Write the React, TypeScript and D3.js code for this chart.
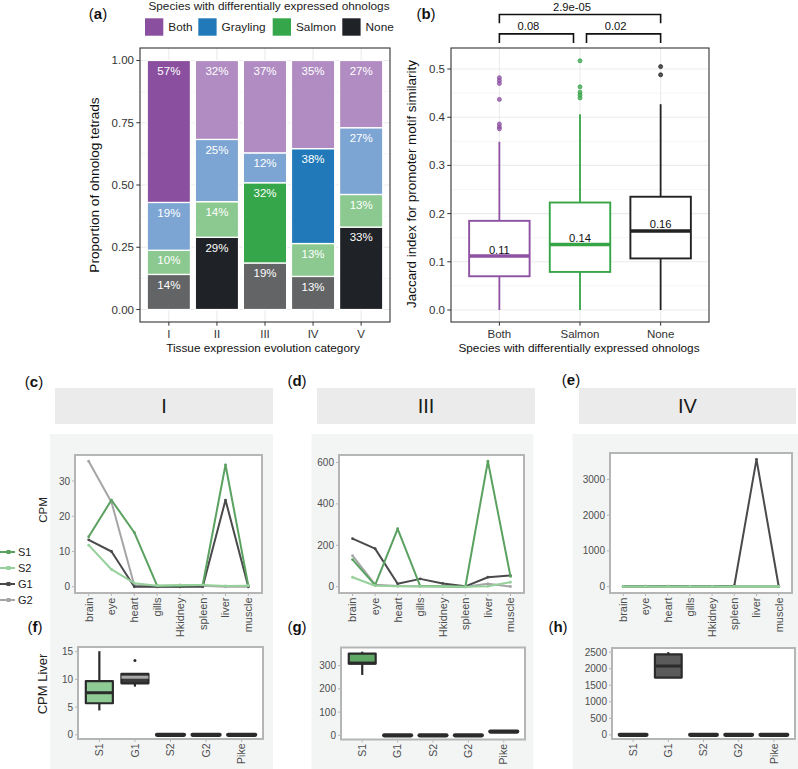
import React from 'react';
import * as d3 from 'd3';

const FONT = '"Liberation Sans", Arial, Helvetica, sans-serif';

// ---------- Panel (a) data ----------
const tissueCategories = ['I', 'II', 'III', 'IV', 'V'];
const speciesGroups = ['Both', 'Grayling', 'Salmon', 'None'];
const bothShare = [0.57, 0.317, 0.371, 0.354, 0.27];
const graylingShare = [0.192, 0.25, 0.12, 0.381, 0.268];
const salmonShare = [0.097, 0.143, 0.322, 0.132, 0.131];
const noneShare = [0.141, 0.29, 0.187, 0.133, 0.331];
const highlightedGroup = ['Both', 'None', 'Salmon', 'Grayling', 'None'];
const proportionTicks = [0, 0.25, 0.5, 0.75, 1];

// ---------- Panel (b) data ----------
const jaccardGroups = ['Both', 'Salmon', 'None'];
const jaccardLow = [0, 0, 0];
const jaccardQ1 = [0.07, 0.079, 0.107];
const jaccardMedian = [0.112, 0.136, 0.164];
const jaccardQ3 = [0.185, 0.223, 0.235];
const jaccardHigh = [0.349, 0.406, 0.427];
const jaccardOutliers = [
  [0.482, 0.476, 0.47, 0.437, 0.386, 0.38, 0.376],
  [0.517, 0.463, 0.452, 0.446, 0.44],
  [0.505, 0.488],
];
const jaccardMedianLabels = ['0.11', '0.14', '0.16'];
const jaccardTicks = [0, 0.1, 0.2, 0.3, 0.4, 0.5];
const sigPairs = [
  { a: 'Both', b: 'None', label: '2.9e-05', level: 1 },
  { a: 'Both', b: 'Salmon', label: '0.08', level: 0 },
  { a: 'Salmon', b: 'None', label: '0.02', level: 0 },
];

// ---------- Panels (c)-(e) data ----------
const tissues = ['brain', 'eye', 'heart', 'gills', 'Hkidney', 'spleen', 'liver', 'muscle'];
const seriesNames = ['S1', 'S2', 'G1', 'G2'];
const cS1 = [14.2, 24.6, 15.4, 0.3, 0.3, 0.5, 34.6, 0.3];
const cS2 = [11.8, 4.9, 1, 0.3, 0.5, 0.5, 0.2, 0.3];
const cG1 = [13.3, 10, 0, 0, 0, 0, 24.6, 0];
const cG2 = [35.6, 24, 0.4, 0, 0, 0.3, 0, 0];
const cTicks = [0, 10, 20, 30];

const dS1 = [131, 8, 280, 3, 2, 0, 606, 50];
const dS2 = [46, 5, 2, 1, 1, 0, 2, 22];
const dG1 = [232, 184, 14, 38, 16, 2, 46, 54];
const dG2 = [150, 10, 3, 2, 1, 0, 14, 1];
const dTicks = [0, 200, 400, 600];

const eS1 = [2, 2, 3, 2, 2, 3, 5, 2];
const eS2 = [4, 4, 4, 4, 4, 4, 4, 4];
const eG1 = [10, 12, 15, 8, 10, 25, 3560, 12];
const eG2 = [3, 3, 3, 3, 3, 3, 3, 3];
const eTicks = [0, 1000, 2000, 3000];

// ---------- Panels (f)-(h) data ----------
const liverGroups = ['S1', 'G1', 'S2', 'G2', 'Pike'];
const fLow = [4.4, 8.7, 0, 0, 0];
const fQ1 = [5.7, 9.3, 0, 0, 0];
const fMed = [7.6, 10.4, 0, 0, 0];
const fQ3 = [9.7, 11, 0, 0, 0];
const fHigh = [15.1, 11, 0, 0, 0];
const fOut = [[], [13.4], [], [], []];
const fTicks = [0, 5, 10, 15];

const gLow = [260, 0, 0, 0, 16];
const gQ1 = [308, 0, 0, 0, 16];
const gMed = [311, 0, 0, 0, 16];
const gQ3 = [352, 0, 0, 0, 16];
const gHigh = [360, 0, 0, 0, 16];
const gOut = [[], [], [], [], []];
const gTicks = [0, 100, 200, 300];

const hLow = [0, 1730, 0, 0, 0];
const hQ1 = [0, 1730, 0, 0, 0];
const hMed = [0, 2080, 0, 0, 0];
const hQ3 = [0, 2430, 0, 0, 0];
const hHigh = [0, 2500, 0, 0, 0];
const hOut = [[], [], [], [], []];
const hTicks = [0, 500, 1000, 1500, 2000, 2500];

// ---------- Styles ----------
const GROUP_COLORS: Record<string, { dark: string; light: string }> = {
  Both: { dark: '#8B4F9F', light: '#B18CC2' },
  Grayling: { dark: '#2179B9', light: '#7CA5D3' },
  Salmon: { dark: '#35A64A', light: '#8CC990' },
  None: { dark: '#1F2226', light: '#636466' },
};
const BOX_COLORS: Record<string, string> = { Both: '#8E52A3', Salmon: '#36A447', None: '#222222' };
const SERIES_COLORS: Record<string, string> = { S1: '#5BA160', S2: '#96D09B', G1: '#4A4A4D', G2: '#A5A5A5' };
const DRAW_ORDER = ['G2', 'G1', 'S1', 'S2'];
const BOX_DARK = '#2B2B2B';
const BG_LIGHT = '#F3F5F5';
const STRIP_BG = '#EBEBEB';
const GRID = '#EBEBEB';
const LOWER_BORDER = '#B5B5B5';
const AXIS_TXT = '#4D4D4D';

function PanelTag({ x, y, letter }: { x: number; y: number; letter: string }) {
  return (
    <text x={x} y={y} textAnchor="middle" fontSize={15} fill="#111">
      (<tspan fontWeight="bold">{letter}</tspan>)
    </text>
  );
}

function PanelA() {
  const L = 140, R = 390, T = 48, B = 322;
  const x = d3.scalePoint<string>().domain(tissueCategories).range([L, R]).padding(0.6);
  const y = d3.scaleLinear().domain([-0.05, 1.05]).range([B, T]);
  const bw = x.step() * 0.9;
  const rows = tissueCategories.map((c, i) => ({
    cat: c, Both: bothShare[i], Grayling: graylingShare[i], Salmon: salmonShare[i], None: noneShare[i],
  }));
  const stacked = d3.stack<any>().keys(['None', 'Salmon', 'Grayling', 'Both'])(rows);
  const minor = proportionTicks.slice(0, -1).map((t, i) => (t + proportionTicks[i + 1]) / 2);
  const legendX = [145, 198.3, 272.7, 342.3];
  return (
    <g>
      <PanelTag x={98} y={19} letter="a" />
      <text x={269} y={9.5} textAnchor="middle" fontSize={11.8} fill="#222">Species with differentially expressed ohnologs</text>
      {speciesGroups.map((g, i) => (
        <g key={g}>
          <rect x={legendX[i]} y={18.3} width={18.3} height={17.4} fill={GROUP_COLORS[g].dark} />
          <text x={legendX[i] + 23.3} y={31} fontSize={11.8} fill="#222">{g}</text>
        </g>
      ))}
      <rect x={L} y={T} width={R - L} height={B - T} fill="#fff" />
      {minor.map(t => <line key={'m' + t} x1={L} x2={R} y1={y(t)} y2={y(t)} stroke="#F2F2F2" strokeWidth={0.7} />)}
      {proportionTicks.map(t => <line key={'g' + t} x1={L} x2={R} y1={y(t)} y2={y(t)} stroke={GRID} strokeWidth={1.1} />)}
      {tissueCategories.map(c => <line key={'v' + c} x1={x(c)} x2={x(c)} y1={T} y2={B} stroke={GRID} strokeWidth={1.1} />)}
      {stacked.map(s => s.map((d: any, i: number) => {
        const key = s.key as string;
        const hl = highlightedGroup[i] === key;
        return (
          <rect key={key + i} x={(x(d.data.cat) as number) - bw / 2} y={y(d[1])} width={bw}
            height={y(d[0]) - y(d[1])} fill={hl ? GROUP_COLORS[key].dark : GROUP_COLORS[key].light}
            stroke="#fff" strokeWidth={1.3} />
        );
      }))}
      {stacked.map(s => s.map((d: any, i: number) => (
        <text key={'t' + s.key + i} x={x(d.data.cat)} y={y(d[1]) + 14.2} textAnchor="middle" fontSize={11.5} fill="#fff">
          {Math.round((d[1] - d[0]) * 100)}%
        </text>
      )))}
      <rect x={L} y={T} width={R - L} height={B - T} fill="none" stroke="#333" strokeWidth={1.1} />
      {proportionTicks.map(t => (
        <g key={'yt' + t}>
          <line x1={L - 3.7} x2={L} y1={y(t)} y2={y(t)} stroke="#333" />
          <text x={L - 6} y={y(t)} dy="0.35em" textAnchor="end" fontSize={11.5} fill="#333">{t.toFixed(2)}</text>
        </g>
      ))}
      {tissueCategories.map(c => (
        <g key={'xt' + c}>
          <line x1={x(c)} x2={x(c)} y1={B} y2={B + 3.7} stroke="#333" />
          <text x={x(c)} y={337.5} textAnchor="middle" fontSize={11.5} fill="#333">{c}</text>
        </g>
      ))}
      <text transform={`translate(99,185) rotate(-90)`} textAnchor="middle" fontSize={13.6} fill="#111">Proportion of ohnolog tetrads</text>
      <text x={263} y={352} textAnchor="middle" fontSize={11.8} fill="#111">Tissue expression evolution category</text>
    </g>
  );
}

function PanelB() {
  const L = 451, R = 709, T = 48, B = 322;
  const x = d3.scalePoint<string>().domain(jaccardGroups).range([L, R]).padding(0.6);
  const y = d3.scaleLinear().domain([-0.0249, 0.5436]).range([B, T]);
  const bw = x.step() * 0.75;
  const minor = jaccardTicks.slice(0, -1).map((t, i) => (t + jaccardTicks[i + 1]) / 2);
  const bracketY = [[0.573, 0.554], [0.613, 0.595]];
  return (
    <g>
      <PanelTag x={426} y={19} letter="b" />
      <rect x={L} y={T} width={R - L} height={B - T} fill="#fff" />
      {minor.map(t => <line key={'m' + t} x1={L} x2={R} y1={y(t)} y2={y(t)} stroke="#F2F2F2" strokeWidth={0.7} />)}
      {jaccardTicks.map(t => <line key={'g' + t} x1={L} x2={R} y1={y(t)} y2={y(t)} stroke={GRID} strokeWidth={1.1} />)}
      {jaccardGroups.map(c => <line key={'v' + c} x1={x(c)} x2={x(c)} y1={T} y2={B} stroke={GRID} strokeWidth={1.1} />)}
      {jaccardGroups.map((g, i) => {
        const cx = x(g) as number;
        const col = BOX_COLORS[g];
        return (
          <g key={g}>
            <line x1={cx} x2={cx} y1={y(jaccardLow[i])} y2={y(jaccardQ1[i])} stroke={col} strokeWidth={1.8} />
            <line x1={cx} x2={cx} y1={y(jaccardQ3[i])} y2={y(jaccardHigh[i])} stroke={col} strokeWidth={1.8} />
            <rect x={cx - bw / 2} y={y(jaccardQ3[i])} width={bw} height={y(jaccardQ1[i]) - y(jaccardQ3[i])} fill="#fff" stroke={col} strokeWidth={1.9} />
            <line x1={cx - bw / 2} x2={cx + bw / 2} y1={y(jaccardMedian[i])} y2={y(jaccardMedian[i])} stroke={col} strokeWidth={3.6} />
            {jaccardOutliers[i].map((o, j) => (
              <circle key={j} cx={cx} cy={y(o)} r={2} fill={col} fillOpacity={0.75} stroke={col} strokeWidth={0.8} />
            ))}
            <text x={cx} y={y(jaccardMedian[i]) - 2.5} textAnchor="middle" fontSize={11.2} fill="#111">{jaccardMedianLabels[i]}</text>
          </g>
        );
      })}
      <rect x={L} y={T} width={R - L} height={B - T} fill="none" stroke="#333" strokeWidth={1.1} />
      {sigPairs.map((p, i) => {
        const xa = (x(p.a) as number) + (p.a === 'Salmon' ? 6.5 : 0);
        const xb = (x(p.b) as number) - (p.b === 'Salmon' ? 6.5 : 0);
        const [top, leg] = bracketY[p.level];
        return (
          <g key={i}>
            <path d={`M${xa},${y(leg)}V${y(top)}H${xb}V${y(leg)}`} fill="none" stroke="#111" strokeWidth={1.6} />
            <text x={(xa + xb) / 2 - 8} y={y(top) - 3.5} textAnchor="middle" fontSize={11.2} fill="#111">{p.label}</text>
          </g>
        );
      })}
      {jaccardTicks.map(t => (
        <g key={'yt' + t}>
          <line x1={L - 3.7} x2={L} y1={y(t)} y2={y(t)} stroke="#333" />
          <text x={L - 6} y={y(t)} dy="0.35em" textAnchor="end" fontSize={11.5} fill="#333">{t.toFixed(1)}</text>
        </g>
      ))}
      {jaccardGroups.map(c => (
        <g key={'xt' + c}>
          <line x1={x(c)} x2={x(c)} y1={B} y2={B + 3.7} stroke="#333" />
          <text x={x(c)} y={337.5} textAnchor="middle" fontSize={11.5} fill="#333">{c}</text>
        </g>
      ))}
      <text transform={`translate(416,184) rotate(-90)`} textAnchor="middle" fontSize={13.4} fill="#111">Jaccard index for promoter motif similarity</text>
      <text x={579} y={352} textAnchor="middle" fontSize={11.8} fill="#111">Species with differentially expressed ohnologs</text>
    </g>
  );
}

type LineProps = {
  L: number; R: number; T: number; B: number;
  values: Record<string, number[]>; ticks: number[];
};

function LinePanel({ L, R, T, B, values, ticks }: LineProps) {
  const x = d3.scalePoint<string>().domain(tissues).range([L, R]).padding(0.6);
  const all = Object.values(values).flat();
  const mx = d3.max(all) as number;
  const y = d3.scaleLinear().domain([-0.05 * mx, 1.05 * mx]).range([B, T]);
  const line = d3.line<number>().x((_, i) => x(tissues[i]) as number).y(d => y(d));
  return (
    <g>
      <rect x={L} y={T} width={R - L} height={B - T} fill="#fff" />
      {DRAW_ORDER.map(s => (
        <g key={s}>
          <path d={line(values[s]) as string} fill="none" stroke={SERIES_COLORS[s]} strokeWidth={2} strokeLinejoin="round" />
          {values[s].map((v, i) => <circle key={i} cx={x(tissues[i])} cy={y(v)} r={1.4} fill={SERIES_COLORS[s]} />)}
        </g>
      ))}
      <rect x={L} y={T} width={R - L} height={B - T} fill="none" stroke={LOWER_BORDER} strokeWidth={2} />
      {ticks.map(t => (
        <g key={t}>
          <line x1={L - 3} x2={L - 1} y1={y(t)} y2={y(t)} stroke={LOWER_BORDER} />
          <text x={L - 5} y={y(t)} dy="0.35em" textAnchor="end" fontSize={10} fill={AXIS_TXT}>{t}</text>
        </g>
      ))}
      {tissues.map(t => (
        <g key={t}>
          <line x1={x(t)} x2={x(t)} y1={B + 1} y2={B + 3} stroke={LOWER_BORDER} />
          <text transform={`translate(${x(t)},${B + 4.5}) rotate(-90)`} dy="0.35em" textAnchor="end" fontSize={11} fill={AXIS_TXT}>{t}</text>
        </g>
      ))}
    </g>
  );
}

type BoxProps = {
  L: number; R: number; T: number; B: number; ticks: number[];
  low: number[]; q1: number[]; med: number[]; q3: number[]; high: number[]; out: number[][];
  fills: Record<string, string>; medColors: Record<string, string>;
};

function BoxPanel({ L, R, T, B, ticks, low, q1, med, q3, high, out, fills, medColors }: BoxProps) {
  const x = d3.scalePoint<string>().domain(liverGroups).range([L, R]).padding(0.6);
  const mx = d3.max([...high, ...out.flat()]) as number;
  const y = d3.scaleLinear().domain([-0.05 * mx, 1.05 * mx]).range([B, T]);
  const bw = x.step() * 0.76;
  return (
    <g>
      <rect x={L} y={T} width={R - L} height={B - T} fill="#fff" />
      {liverGroups.map((g, i) => {
        const cx = x(g) as number;
        const flat = q3[i] - q1[i] === 0;
        return (
          <g key={g}>
            <line x1={cx} x2={cx} y1={y(low[i])} y2={y(q1[i])} stroke={BOX_DARK} strokeWidth={2.2} />
            <line x1={cx} x2={cx} y1={y(q3[i])} y2={y(high[i])} stroke={BOX_DARK} strokeWidth={2.2} />
            <rect x={cx - bw / 2} y={y(q3[i])} width={bw} height={Math.max(0, y(q1[i]) - y(q3[i]))}
              fill={fills[g] || BOX_DARK} stroke={BOX_DARK} strokeWidth={2.2} strokeLinejoin="round" />
            <line x1={cx - bw / 2} x2={cx + bw / 2} y1={y(med[i])} y2={y(med[i])}
              stroke={flat ? BOX_DARK : (medColors[g] || BOX_DARK)} strokeWidth={flat ? 4.2 : 3} strokeLinecap={flat ? 'round' : 'butt'} />
            {out[i].map((o, j) => <circle key={j} cx={cx} cy={y(o)} r={1.5} fill={BOX_DARK} />)}
          </g>
        );
      })}
      <rect x={L} y={T} width={R - L} height={B - T} fill="none" stroke={LOWER_BORDER} strokeWidth={2} />
      {ticks.map(t => (
        <g key={t}>
          <line x1={L - 3} x2={L - 1} y1={y(t)} y2={y(t)} stroke={LOWER_BORDER} />
          <text x={L - 5} y={y(t)} dy="0.35em" textAnchor="end" fontSize={10} fill={AXIS_TXT}>{t}</text>
        </g>
      ))}
      {liverGroups.map(g => (
        <g key={g}>
          <line x1={x(g)} x2={x(g)} y1={B + 1} y2={B + 3} stroke={LOWER_BORDER} />
          <text transform={`translate(${x(g)},${B + 4.5}) rotate(-90)`} dy="0.35em" textAnchor="end" fontSize={10.5} fill={AXIS_TXT}>{g}</text>
        </g>
      ))}
    </g>
  );
}

function Strip({ x0, x1, label }: { x0: number; x1: number; label: string }) {
  return (
    <g>
      <rect x={x0} y={388} width={x1 - x0} height={36} fill={STRIP_BG} />
      <text x={(x0 + x1) / 2} y={406} dy="0.36em" textAnchor="middle" fontSize={20} fill="#1A1A1A">{label}</text>
    </g>
  );
}

export default function App() {
  const legendY = [552, 568, 584, 600];
  return (
    <svg width={798} height={769} style={{ position: 'absolute', left: 0, top: 0, background: '#fff' }} fontFamily={FONT}>
      <rect x={0} y={0} width={798} height={769} fill="#fff" />
      <PanelA />
      <PanelB />
      <rect x={50} y={434} width={223} height={335} fill={BG_LIGHT} />
      <rect x={311.5} y={434} width={222} height={335} fill={BG_LIGHT} />
      <rect x={572.5} y={434} width={225.5} height={335} fill={BG_LIGHT} />
      <Strip x0={55} x1={273} label="I" />
      <Strip x0={317} x1={535} label="III" />
      <Strip x0={579} x1={796} label="IV" />
      <PanelTag x={34} y={387} letter="c" />
      <PanelTag x={297} y={386} letter="d" />
      <PanelTag x={571} y={385} letter="e" />
      <PanelTag x={35} y={632} letter="f" />
      <PanelTag x={297} y={632} letter="g" />
      <PanelTag x={558} y={632} letter="h" />
      <LinePanel L={75} R={262} T={455} B={593} ticks={cTicks} values={{ S1: cS1, S2: cS2, G1: cG1, G2: cG2 }} />
      <LinePanel L={339} R={524} T={455} B={593} ticks={dTicks} values={{ S1: dS1, S2: dS2, G1: dG1, G2: dG2 }} />
      <LinePanel L={610} R={792} T={453} B={593} ticks={eTicks} values={{ S1: eS1, S2: eS2, G1: eG1, G2: eG2 }} />
      <text transform="translate(47,510) rotate(-90)" textAnchor="middle" fontSize={11.5} fill="#222">CPM</text>
      {seriesNames.map((s, i) => (
        <g key={s}>
          <line x1={0} x2={15} y1={legendY[i]} y2={legendY[i]} stroke={SERIES_COLORS[s]} strokeWidth={2} />
          <rect x={6.5} y={legendY[i] - 2} width={4} height={4} fill={SERIES_COLORS[s]} />
          <text x={18} y={legendY[i]} dy="0.36em" fontSize={11} fill="#222">{s}</text>
        </g>
      ))}
      <BoxPanel L={78} R={263} T={647} B={739} ticks={fTicks} low={fLow} q1={fQ1} med={fMed} q3={fQ3} high={fHigh} out={fOut}
        fills={{ S1: '#8FCB95', G1: '#3A3A3A' }} medColors={{ S1: BOX_DARK, G1: '#A8A8A8' }} />
      <BoxPanel L={341} R={525} T={647.5} B={739.5} ticks={gTicks} low={gLow} q1={gQ1} med={gMed} q3={gQ3} high={gHigh} out={gOut}
        fills={{ S1: '#5FA866' }} medColors={{ S1: BOX_DARK }} />
      <BoxPanel L={612} R={795} T={648} B={739} ticks={hTicks} low={hLow} q1={hQ1} med={hMed} q3={hQ3} high={hHigh} out={hOut}
        fills={{ G1: '#5B5B5B' }} medColors={{ G1: BOX_DARK }} />
      <text transform="translate(47,684) rotate(-90)" textAnchor="middle" fontSize={13} fill="#222">CPM Liver</text>
    </svg>
  );
}
